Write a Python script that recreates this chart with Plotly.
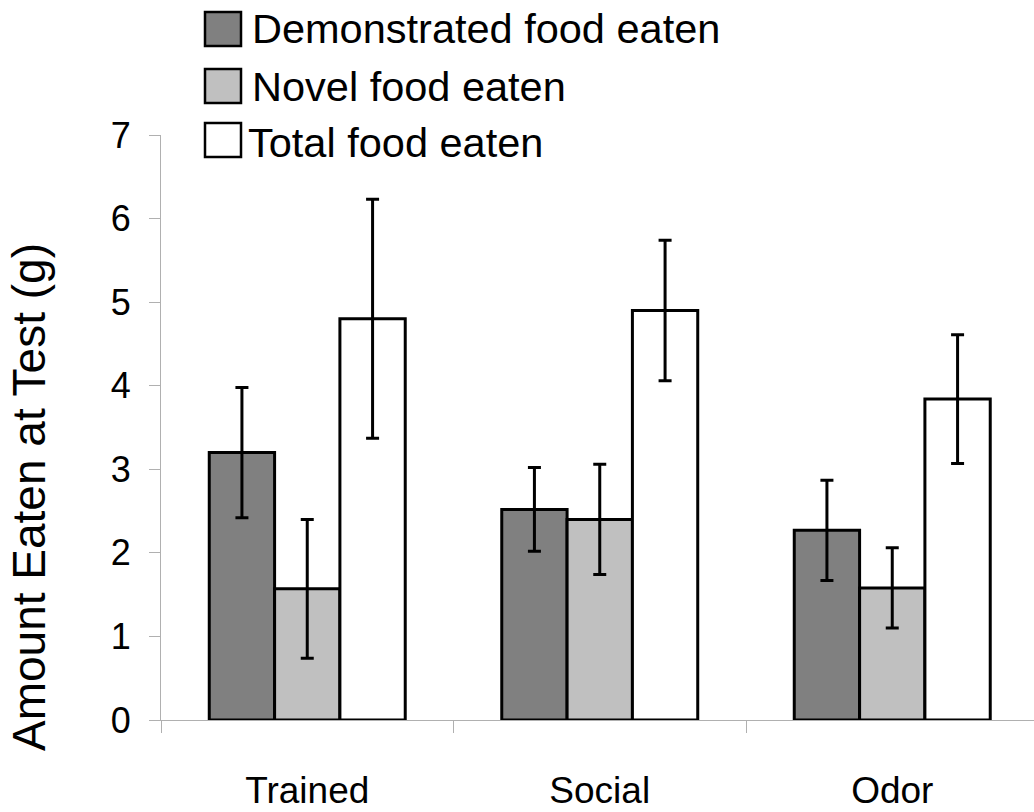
import plotly.graph_objects as go

# Test groups and food measures
groups = ["Trained", "Social", "Odor"]
series_names = ["Demonstrated food eaten", "Novel food eaten", "Total food eaten"]

demonstrated = [3.20, 2.52, 2.27]
novel = [1.57, 2.40, 1.58]
total = [4.80, 4.90, 3.84]

demonstrated_err = [0.78, 0.50, 0.60]
novel_err = [0.83, 0.66, 0.48]
total_err = [1.43, 0.84, 0.77]

y_ticks = [0, 1, 2, 3, 4, 5, 6, 7]

fills = ["#808080", "#c0c0c0", "#ffffff"]
FONT = "Liberation Sans, Arial, sans-serif"

W, H = 1034, 812
ML, MR, MT, MB = 161, 0, 135, 92
plot_w = W - ML - MR
plot_h = H - MT - MB


def px_x(px):
    return (px - ML) / plot_w


def px_y(py):
    return (H - MB - py) / plot_h


fig = go.Figure()
for name, vals, errs, fill in zip(series_names,
                                  [demonstrated, novel, total],
                                  [demonstrated_err, novel_err, total_err],
                                  fills):
    fig.add_trace(go.Bar(
        x=groups, y=vals, name=name,
        marker=dict(color=fill, line=dict(color="#000000", width=3)),
        error_y=dict(type="data", array=errs, visible=True,
                     color="#000000", thickness=3, width=6.5),
        showlegend=False,
    ))

# Legend drawn as large swatches with text beside them
shapes = []
annotations = []
box_rows = [29, 86, 140]
text_rows = [29, 86, 143]
text_x = [250, 250, 246]
for name, fill, by, ty, tx in zip(series_names, fills, box_rows, text_rows, text_x):
    shapes.append(dict(
        type="rect", xref="paper", yref="paper",
        x0=px_x(205), x1=px_x(241), y0=px_y(by + 17), y1=px_y(by - 17),
        fillcolor=fill, line=dict(color="#000000", width=2.5),
    ))
    annotations.append(dict(
        text=name, xref="paper", yref="paper",
        x=px_x(tx), y=px_y(ty), xanchor="left", yanchor="middle",
        showarrow=False, font=dict(family=FONT, size=41.5, color="#000000"),
    ))

annotations.append(dict(
    text="Amount Eaten at Test (g)", xref="paper", yref="paper",
    x=px_x(29), y=px_y(497), xanchor="center", yanchor="middle",
    textangle=-90, showarrow=False,
    font=dict(family=FONT, size=46, color="#000000"),
))

fig.update_layout(
    width=W, height=H,
    margin=dict(l=ML, r=MR, t=MT, b=MB, pad=0),
    paper_bgcolor="#ffffff", plot_bgcolor="#ffffff",
    barmode="group", bargap=0.33, bargroupgap=0,
    shapes=shapes, annotations=annotations,
    font=dict(family=FONT, color="#000000"),
)

fig.update_xaxes(
    type="category", range=[-0.5, 2.5 - 4.5 / 292.5],
    showline=True, linecolor="#b0b0b0", linewidth=1,
    ticks="outside", tickson="boundaries", ticklen=12,
    tickcolor="#b0b0b0", tickwidth=1,
    tickfont=dict(family=FONT, size=37, color="#000000"),
    ticklabelstandoff=38,
    showgrid=False, zeroline=False, layer="below traces",
)
fig.update_yaxes(
    range=[0, 7], tickvals=y_ticks,
    showline=True, linecolor="#b0b0b0", linewidth=1,
    ticks="outside", ticklen=11, tickcolor="#b0b0b0", tickwidth=1,
    tickfont=dict(family=FONT, size=36, color="#000000"),
    ticklabelstandoff=11,
    showgrid=False, zeroline=False, layer="below traces",
)

fig.write_html("out.html")
